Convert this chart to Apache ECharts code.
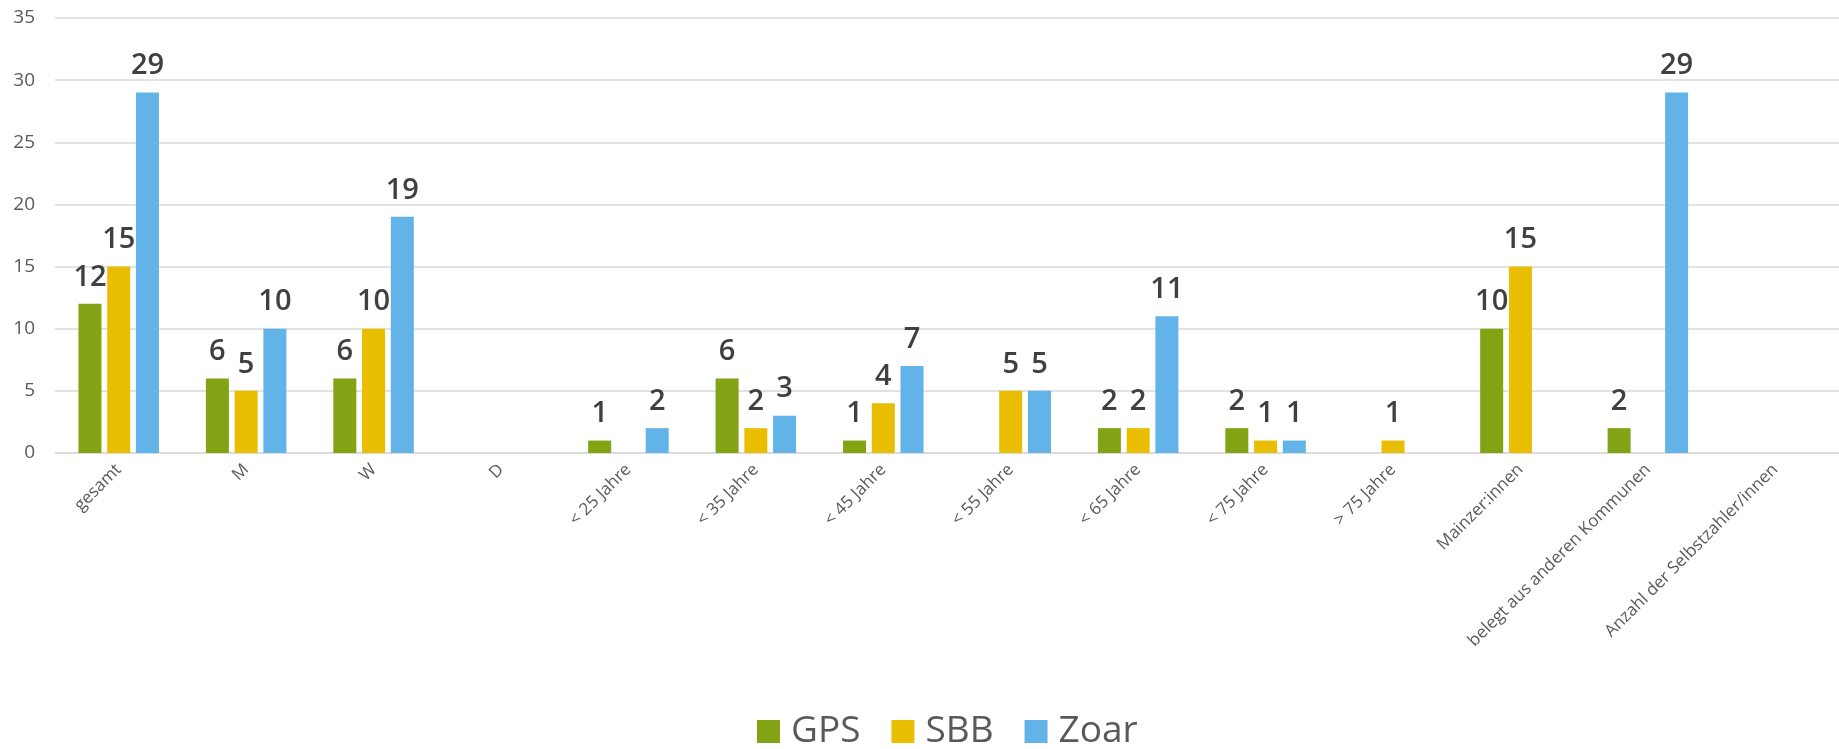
<!DOCTYPE html>
<html>
<head>
<meta charset="utf-8">
<script src="https://cdn.jsdelivr.net/npm/echarts@6/dist/echarts.min.js"></script>
<style>
  html, body { margin: 0; padding: 0; background: #fff; }
  #chart { width: 1839px; height: 749px; }
</style>
</head>
<body>
<div id="chart"></div>
<script>
  // Kategorien und Werte (null = kein Balken)
  const categories = ['gesamt', 'M', 'W', 'D', '< 25 Jahre', '< 35 Jahre', '< 45 Jahre', '< 55 Jahre',
    '< 65 Jahre', '< 75 Jahre', '> 75 Jahre', 'Mainzer:innen', 'belegt aus anderen Kommunen',
    'Anzahl der Selbstzahler/innen'];
  const gps = [12, 6, 6, null, 1, 6, 1, null, 2, 2, null, 10, 2, null];
  const sbb = [15, 5, 10, null, null, 2, 4, 5, 2, 1, 1, 15, null, null];
  const zoar = [29, 10, 19, null, 2, 3, 7, 5, 11, 1, null, null, 29, null];
  const yTicks = { min: 0, max: 35, interval: 5 };

  const chart = echarts.init(document.getElementById('chart'));

  let barLabel = {
    show: true,
    position: 'top',
    distance: 12,
    color: '#404040',
    fontSize: 29,
    fontWeight: 600,
    fontFamily: 'Open Sans'
  };

  function makeSeries(name, data, color) {
    return {
      name: name,
      type: 'bar',
      data: data,
      barWidth: 23,
      barGap: '25%',
      barCategoryGap: '38%',
      itemStyle: { color: color },
      label: barLabel
    };
  }

  let option = {
    animation: false,
    textStyle: { fontFamily: 'Open Sans' },
    grid: { left: 55, right: -12, top: 18, bottom: 296, containLabel: false },
    legend: {
      data: ['GPS', 'SBB', 'Zoar'],
      left: 752,
      top: 708,
      icon: 'rect',
      itemWidth: 23,
      itemHeight: 23,
      itemGap: 31,
      textStyle: { fontSize: 37, color: '#595959', fontFamily: 'Open Sans', padding: [0, 0, 0, 6] }
    },
    xAxis: {
      type: 'category',
      data: categories,
      axisLine: { lineStyle: { color: '#d9d9d9', width: 1.5 } },
      axisTick: { show: false },
      axisLabel: {
        interval: 0,
        rotate: 45,
        margin: 14,
        fontSize: 17,
        color: '#595959',
        fontFamily: 'Open Sans'
      }
    },
    yAxis: {
      type: 'value',
      min: yTicks.min,
      max: yTicks.max,
      interval: yTicks.interval,
      axisLine: { show: false },
      axisTick: { show: false },
      splitLine: { lineStyle: { color: '#d9d9d9', width: 1.5 } },
      axisLabel: { fontSize: 19, color: '#595959', margin: 20, fontFamily: 'Open Sans' }
    },
    series: [
      makeSeries('GPS', gps, '#82a314'),
      makeSeries('SBB', sbb, '#e9be00'),
      makeSeries('Zoar', zoar, '#62b3e8')
    ]
  };

  chart.setOption(option);
</script>
</body>
</html>
